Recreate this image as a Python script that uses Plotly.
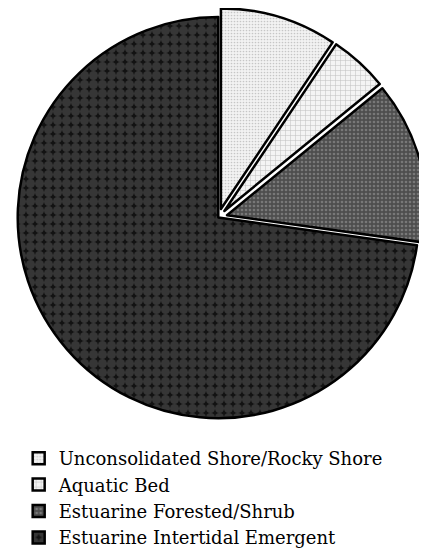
import plotly.graph_objects as go

labels = ["Unconsolidated Shore/Rocky Shore", "Aquatic Bed",
          "Estuarine Forested/Shrub", "Estuarine Intertidal Emergent"]
values = [9.4, 4.7, 13.1, 72.8]
pulls = [0.045, 0.045, 0.045, 0.0]

bg = ["#f2f2f2", "#f4f4f4", "#4e4e4e", "#121212"]
fg = ["#9a9a9a", "#8c8c8c", "#a2a2a2", "#5a5a5a"]
shapes = [".", "+", ".", "."]
sizes = [3, 5, 4, 9]
solid = [0.25, 0.2, 0.35, 0.78]

fig = go.Figure(go.Pie(
    labels=labels, values=values, sort=False, direction="clockwise",
    rotation=0, pull=pulls, textinfo="none", hoverinfo="label+percent",
    marker=dict(colors=bg, line=dict(color="black", width=2.5),
                pattern=dict(shape=shapes, fgcolor=fg, bgcolor=bg,
                             size=sizes, solidity=solid, fillmode="overlay")),
    domain=dict(x=[0.0, 0.985], y=[0.235, 1.0]),
))

fig.update_layout(
    width=427, height=548,
    margin=dict(l=0, r=0, t=0, b=0),
    paper_bgcolor="white", plot_bgcolor="white",
    font=dict(family="DejaVu Serif", color="black", size=18),
    legend=dict(x=0.025, y=0.0, xanchor="left", yanchor="bottom",
                font=dict(family="DejaVu Serif", size=18),
                tracegroupgap=0, itemwidth=30),
)

fig.write_html("out.html")
